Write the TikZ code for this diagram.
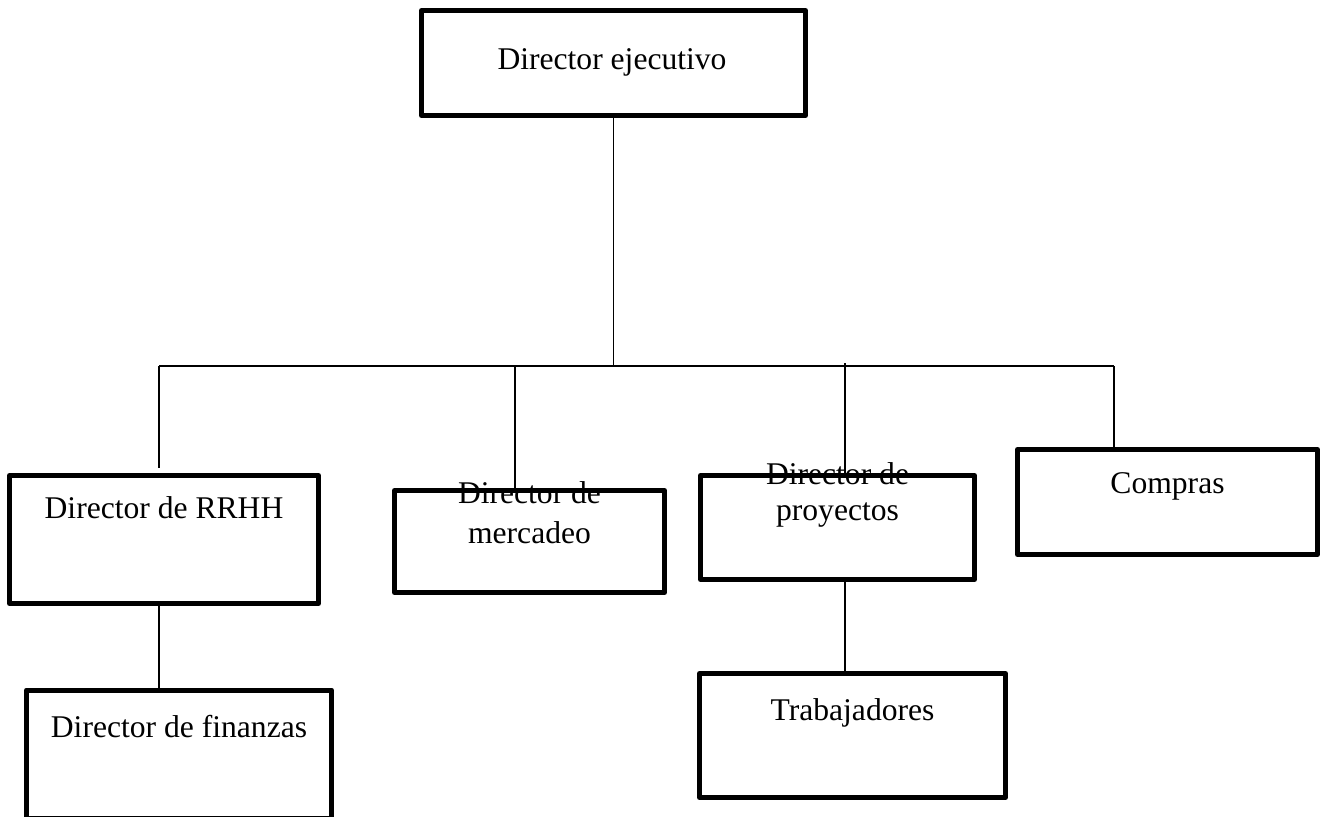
\documentclass[tikz,border=0pt]{standalone}
\usepackage{fontspec}
\setmainfont{Liberation Serif}
\begin{document}
\begin{tikzpicture}[x=1pt,y=-1pt,
  box/.style={draw=black,line width=5pt,line join=round,inner sep=0pt},
  txt/.style={inner sep=0pt,anchor=base,font=\fontsize{31.6}{37}\selectfont},
  conn/.style={draw=black,line width=1.6pt}]
\useasboundingbox[fill=white] (0,0) rectangle (1329,816);
\node[box,minimum width=384pt,minimum height=105pt] (exec) at (613.5,63) {};
\node[box,minimum width=309pt,minimum height=128pt] (rrhh) at (164,539.5) {};
\node[box,minimum width=305pt,minimum height=128pt] (fin) at (179,754) {};
\node[box,minimum width=270pt,minimum height=102pt] (merc) at (529.5,541.5) {};
\node[box,minimum width=274pt,minimum height=104pt] (proy) at (837.5,527.5) {};
\node[box,minimum width=300pt,minimum height=105pt] (comp) at (1167.5,502) {};
\node[box,minimum width=306pt,minimum height=124pt] (trab) at (852.5,735.5) {};
\coordinate (busL) at (159,366);
\coordinate (busR) at (1114,366);
\coordinate (rrhhIn) at (159,468);
\coordinate (mercIn) at (515,490);
\coordinate (proyUp) at (845,363);
\draw[conn] (exec.south) -- (exec.south |- busL);
\draw[conn] (busL) -- (busR);
\draw[conn] (busL) -- (rrhhIn);
\draw[conn] (mercIn |- busL) -- (mercIn);
\draw[conn] (proyUp) -- (proyUp |- proy.north);
\draw[conn] (busR) -- (busR |- comp.north);
\draw[conn] (rrhh.south -| busL) -- (fin.north -| busL);
\draw[conn] (proy.south -| proyUp) -- (trab.north -| proyUp);
\node[txt] (execT) at (612,70) {Director ejecutivo};
\node[txt] (rrhhT) at (164,518) {Director de RRHH};
\node[txt] (finT) at (179,737) {Director de finanzas};
\node[txt] (mercT1) at (529.5,503) {Director de};
\node[txt] (mercT2) at (529.5,543) {mercadeo};
\node[txt] (proyT1) at (837.5,484) {Director de};
\node[txt] (proyT2) at (837.5,520) {proyectos};
\node[txt] (compT) at (1167.5,493) {Compras};
\node[txt] (trabT) at (852.5,720) {Trabajadores};
\end{tikzpicture}
\end{document}
